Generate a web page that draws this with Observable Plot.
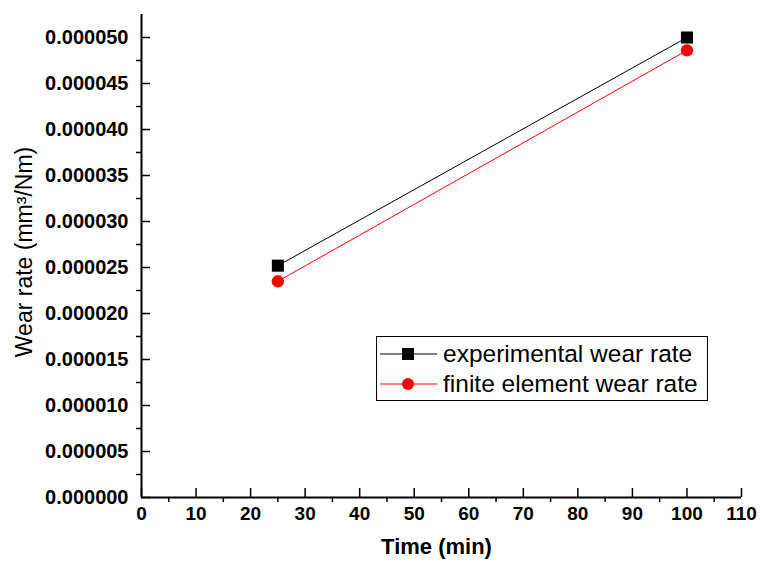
<!DOCTYPE html>
<html>
<head>
<meta charset="utf-8">
<script src="https://cdn.jsdelivr.net/npm/d3@7"></script>
<script src="https://cdn.jsdelivr.net/npm/@observablehq/plot@0.6"></script>
<style>
  html, body { margin: 0; padding: 0; background: #fff; }
  #wrap { position: relative; width: 764px; height: 566px; }
  #legend {
    position: absolute; left: 376px; top: 336px; width: 330px; height: 63px;
    border: 1px solid #000; background: #fff;
    font-family: "Liberation Sans", Arial, sans-serif; font-size: 24.5px; color: #000;
  }
  .row { position: absolute; left: 0; height: 30px; display: flex; align-items: center; }
  .row svg { margin-left: 3px; }
  .row span { margin-left: 6px; white-space: nowrap; }
</style>
</head>
<body>
<div id="wrap">
  <div id="chart"></div>
  <div id="legend">
    <div class="row" style="top:2px">
      <svg width="57" height="16"><line x1="0" x2="57" y1="8" y2="8" stroke="black" stroke-width="1"/><rect x="22" y="2" width="12" height="12" fill="black"/></svg>
      <span>experimental wear rate</span>
    </div>
    <div class="row" style="top:32px">
      <svg width="57" height="16"><line x1="0" x2="57" y1="8" y2="8" stroke="red" stroke-width="1"/><circle cx="28" cy="8" r="6" fill="red"/></svg>
      <span>finite element wear rate</span>
    </div>
  </div>
</div>
<script>
// ---- data ----
const timeMin = [25, 100];
const experimentalWear = [0.0000252, 0.0000500];
const finiteElementWear = [0.0000235, 0.0000486];
const xMajorTicks = [0, 10, 20, 30, 40, 50, 60, 70, 80, 90, 100, 110];
const xMinorTicks = [5, 15, 25, 35, 45, 55, 65, 75, 85, 95, 105];
const yMajorTicks = [0, 0.000005, 0.000010, 0.000015, 0.000020, 0.000025, 0.000030, 0.000035, 0.000040, 0.000045, 0.000050];
const yMinorTicks = [0.0000025, 0.0000075, 0.0000125, 0.0000175, 0.0000225, 0.0000275, 0.0000325, 0.0000375, 0.0000425, 0.0000475];
const xTitle = "Time (min)";
const yTitle = "Wear rate (mm³/Nm)";

const expRows = timeMin.map((t, i) => ({time: t, wear: experimentalWear[i]}));
const feRows = timeMin.map((t, i) => ({time: t, wear: finiteElementWear[i]}));

const W = 764, H = 566;
const mL = 141, mR = 23, mT = 14, mB = 69;
const pw = W - mL - mR, ph = H - mT - mB;

const chart = Plot.plot({
  width: W, height: H,
  marginLeft: mL, marginRight: mR, marginTop: mT, marginBottom: mB,
  x: {domain: [0, 110]},
  y: {domain: [0, 0.0000525]},
  style: {fontFamily: "'Liberation Sans', Arial, sans-serif", fontSize: "19px", fontWeight: "bold", color: "black", background: "white"},
  marks: [
    Plot.line(expRows, {x: "time", y: "wear", stroke: "black", strokeWidth: 1}),
    Plot.line(feRows, {x: "time", y: "wear", stroke: "red", strokeWidth: 1}),
    Plot.dot(expRows, {x: "time", y: "wear", symbol: "square", fill: "black", r: 6.8}),
    Plot.dot(feRows, {x: "time", y: "wear", fill: "red", r: 6.2}),
    // major ticks inside
    Plot.tickX(xMajorTicks, {x: d => d, insetTop: ph - 9, stroke: "black", strokeWidth: 1.5}),
    Plot.tickY(yMajorTicks, {y: d => d, insetRight: pw - 9, stroke: "black", strokeWidth: 1.5}),
    // minor ticks outside
    Plot.tickX(xMinorTicks, {x: d => d, insetTop: ph - 5, dy: 5, stroke: "black", strokeWidth: 1.5}),
    Plot.tickY(yMinorTicks, {y: d => d, insetRight: pw - 5, dx: -5, stroke: "black", strokeWidth: 1.5}),
    // axis lines
    Plot.ruleX([0], {stroke: "black", strokeWidth: 2}),
    Plot.ruleY([0], {stroke: "black", strokeWidth: 2}),
    // tick labels
    Plot.axisX({ticks: xMajorTicks, tickSize: 0, tickPadding: 9, label: null, tickFormat: d3.format("d"), fontSize: 19}),
    Plot.axisY({ticks: yMajorTicks, tickSize: 0, tickPadding: 13, label: null, tickFormat: d3.format(".6f"), fontSize: 20}),
    // titles
    Plot.text([xTitle], {text: d => d, frameAnchor: "bottom", textAnchor: "middle", lineAnchor: "middle", dx: -5, dy: 49, fontSize: 22, fontWeight: "bold"}),
    Plot.text([yTitle], {text: d => d, frameAnchor: "left", textAnchor: "middle", lineAnchor: "middle", dx: -117, dy: -4, rotate: -90, fontSize: 23, fontWeight: "normal"})
  ]
});
document.getElementById("chart").appendChild(chart);
</script>
</body>
</html>
